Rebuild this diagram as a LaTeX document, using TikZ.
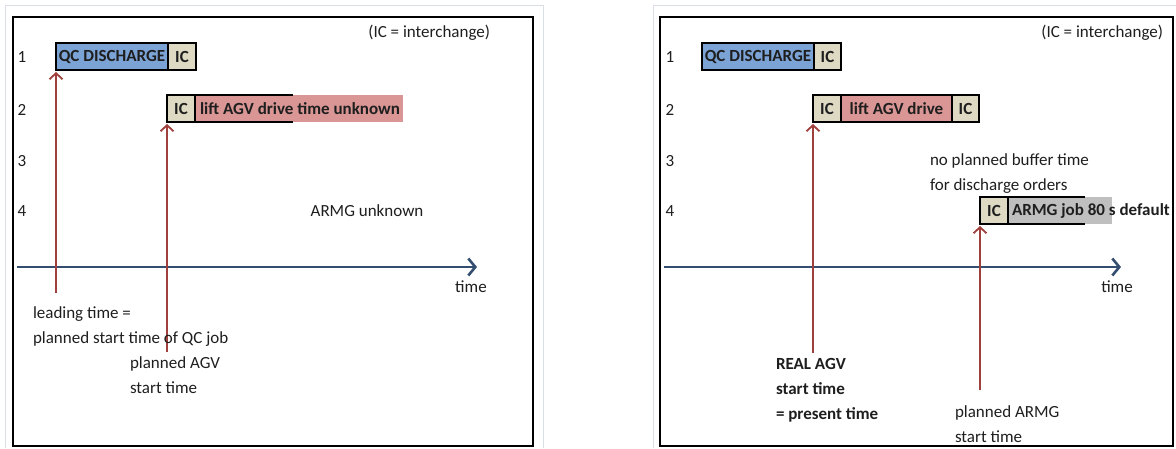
\documentclass[tikz,border=0pt]{standalone}
\usepackage{fontspec}
\setmainfont{Carlito}
\usetikzlibrary{arrows.meta}
\definecolor{qcblue}{RGB}{124,163,214}
\definecolor{icbeige}{RGB}{221,217,195}
\definecolor{agvred}{RGB}{217,150,148}
\definecolor{armggrey}{RGB}{191,191,191}
\definecolor{arrred}{RGB}{160,64,60}
\definecolor{axisblue}{RGB}{52,78,112}
\definecolor{framegrey}{RGB}{218,223,230}
\definecolor{txt}{RGB}{30,30,30}
\begin{document}
\begin{tikzpicture}[x=1pt,y=-1pt,
  every node/.style={font=\fontsize{17}{25}\selectfont, text=txt, inner sep=0pt, outer sep=0pt},
  jobbox/.style={draw=black, line width=1.5pt, minimum height=27pt, anchor=north west, font=\fontsize{17}{25}\selectfont\bfseries},
  plain/.style={align=left},
  boldlbl/.style={align=left, font=\fontsize{17}{25}\selectfont\bfseries},
  startarrow/.style={draw=arrred, line width=2pt, -{Straight Barb[length=6pt,width=13pt,line width=1.8pt]}},
  timeaxis/.style={draw=axisblue, line width=2.8pt, -{Straight Barb[length=7pt,width=17pt,line width=2.6pt]}},
  panel/.style={draw=black, line width=1.8pt}
]
\useasboundingbox (0,0) rectangle (1176,448);
% faint outer frames
\draw[framegrey, line width=1pt] (5,448) -- (5,5) -- (543,5) -- (543,448);
\draw[framegrey, line width=1pt] (653,448) -- (653,5) -- (1176,5);
% panels
\draw[panel] (13,17) rectangle (533,446);
\draw[panel] (660,17) rectangle (1173,446);

% ---------------- left panel ----------------
\node[plain] (rl1) at (22,57) {1};
\node[plain] (rl2) at (22,110) {2};
\node[plain] (rl3) at (22,161) {3};
\node[plain] (rl4) at (22,211) {4};
\node[plain, anchor=east] (legL) at (490,33) {(IC = interchange)};

\node[jobbox, fill=qcblue, minimum width=112pt] (qcL) at (56,43) {QC DISCHARGE};
\node[jobbox, fill=icbeige, minimum width=28pt] (icL1) at (qcL.north east) {IC};

\fill[agvred] (195,95) rectangle (403,122);
\node[jobbox, fill=icbeige, minimum width=28pt] (icL2) at (167,95) {IC};
\draw[black, line width=1.5pt] (icL2.north east) -- ++(98,0);
\draw[black, line width=1.5pt] (icL2.south east) -- ++(98,0);
\node[boldlbl, anchor=west] (agvL) at ([xshift=5pt]icL2.east) {lift AGV drive time unknown};

\node[plain] (armgL) at (367,211) {ARMG unknown};

\coordinate (axL0) at (17,267);
\coordinate (axL1) at (477,267);
\draw[timeaxis] (axL0) -- (axL1);
\node[plain] (timeL) at (471,287) {time};

\coordinate (aL1) at (56,293);
\coordinate (aL2) at (167,352);
\draw[startarrow] (aL1) -- ([yshift=-2pt]qcL.south west);
\draw[startarrow] (aL2) -- ([yshift=-2pt]icL2.south west);

\node[plain, anchor=north west] (leadL) at (33,307) {leading time =\\planned start time of QC job};
\node[plain, anchor=north west] (agvstL) at (130,357) {planned AGV\\start time};

% ---------------- right panel ----------------
\node[plain] (rr1) at (670,57) {1};
\node[plain] (rr2) at (670,110) {2};
\node[plain] (rr3) at (670,161) {3};
\node[plain] (rr4) at (670,211) {4};
\node[plain, anchor=east] (legR) at (1163,33) {(IC = interchange)};

\node[jobbox, fill=qcblue, minimum width=112pt] (qcR) at (702,43) {QC DISCHARGE};
\node[jobbox, fill=icbeige, minimum width=27pt] (icR1) at (qcR.north east) {IC};

\node[jobbox, fill=icbeige, minimum width=28pt] (icR2) at (813,95) {IC};
\node[jobbox, fill=agvred, minimum width=111pt] (agvR) at (icR2.north east) {lift AGV drive};
\node[jobbox, fill=icbeige, minimum width=27pt] (icR3) at (agvR.north east) {IC};

\node[plain, anchor=north west] (bufR) at (930,154) {no planned buffer time\\for discharge orders};

\fill[armggrey] (1008,197) rectangle (1112,224);
\node[jobbox, fill=icbeige, minimum width=28pt] (icR4) at (980,197) {IC};
\draw[black, line width=1.5pt] (icR4.north east) -- ++(77,0);
\draw[black, line width=1.5pt] (icR4.south east) -- ++(77,0);
\node[boldlbl, anchor=west] (armgR) at ([xshift=4pt]icR4.east) {ARMG job 80 s default};

\coordinate (axR0) at (664,267);
\coordinate (axR1) at (1121,267);
\draw[timeaxis] (axR0) -- (axR1);
\node[plain] (timeR) at (1117,287) {time};

\coordinate (aR1) at (813,353);
\coordinate (aR2) at (980,390);
\draw[startarrow] (aR1) -- ([yshift=-2pt]icR2.south west);
\draw[startarrow] (aR2) -- ([yshift=-2pt]icR4.south west);

\node[boldlbl, anchor=north west] (realR) at (776,358) {REAL AGV\\start time\\= present time};
\node[plain, anchor=north west] (armgstR) at (955,406) {planned ARMG\\start time};
\end{tikzpicture}
\end{document}
